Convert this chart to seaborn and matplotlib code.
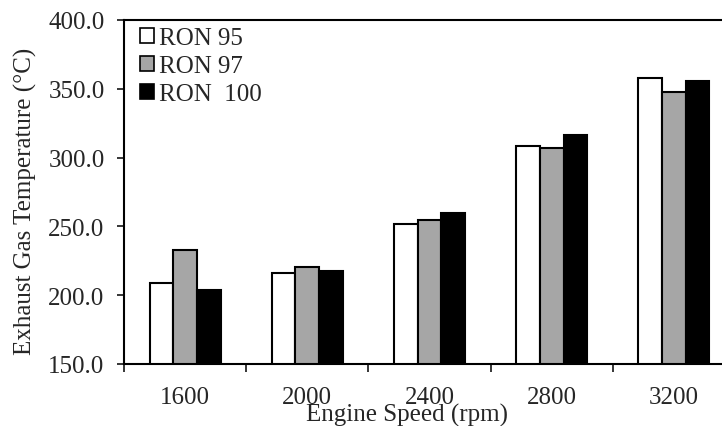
import matplotlib
matplotlib.use("Agg")
import matplotlib.pyplot as plt
from matplotlib.ticker import FixedLocator, FormatStrFormatter
import seaborn as sns
import pandas as pd

# Engine speeds and exhaust gas temperatures (°C) for each fuel grade
speeds = ["1600", "2000", "2400", "2800", "3200"]
fuels = ["RON 95", "RON 97", "RON  100"]
ron95 = [208.6, 216.3, 251.7, 308.1, 357.9]
ron97 = [232.8, 220.7, 254.4, 306.9, 347.3]
ron100 = [203.7, 217.3, 259.7, 316.3, 355.3]

rows = []
for fuel, vals in zip(fuels, [ron95, ron97, ron100]):
    for s, v in zip(speeds, vals):
        rows.append({"speed": s, "fuel": fuel, "temp": v})
df = pd.DataFrame(rows)

sns.set_style("ticks")
plt.rcParams["font.family"] = ["Liberation Serif", "DejaVu Serif"]
FS = 18
plt.rcParams["font.size"] = FS

fig = plt.figure(figsize=(7.22, 4.27), dpi=100)
ax = fig.add_axes([0.1717, 0.1452, 0.8463, 0.8058])

palette = {"RON 95": "#FFFFFF", "RON 97": "#A6A6A6", "RON  100": "#000000"}
sns.barplot(data=df, x="speed", y="temp", hue="fuel", order=speeds,
            hue_order=fuels, palette=palette, width=0.58, gap=0,
            edgecolor="black", linewidth=1.5, saturation=1, ax=ax,
            errorbar=None)

ax.set_ylim(150, 400)
ax.set_xlim(-0.5, len(speeds) - 0.5)
ax.set_yticks([150, 200, 250, 300, 350, 400])
ax.yaxis.set_major_formatter(FormatStrFormatter("%.1f"))

# category labels at group centres, tick marks at group boundaries
ax.tick_params(axis="x", which="major", length=0, pad=16, labelsize=FS)
ax.xaxis.set_minor_locator(FixedLocator([i - 0.5 for i in range(len(speeds) + 1)]))
ax.tick_params(axis="x", which="minor", length=6, width=1.3, direction="out")
ax.tick_params(axis="y", length=5, width=1.3, direction="out", pad=9,
               labelsize=FS)

for sp in ax.spines.values():
    sp.set_linewidth(1.5)
    sp.set_color("black")

ax.set_xlabel("Engine Speed (rpm)", fontsize=FS, labelpad=-4, x=0.463)
ax.set_ylabel("Exhaust Gas Temperature (°C)", fontsize=FS, labelpad=8, y=0.475)

leg = ax.legend(loc="upper left", bbox_to_anchor=(0.026, 0.978), frameon=False,
                fontsize=FS, handlelength=0.55, handleheight=0.55,
                handletextpad=0.2, labelspacing=0.24, borderaxespad=0.0,
                borderpad=0.0)
for h in leg.legend_handles:
    h.set_edgecolor("black")
    h.set_linewidth(1.2)

fig.savefig("out.png", dpi=100)
